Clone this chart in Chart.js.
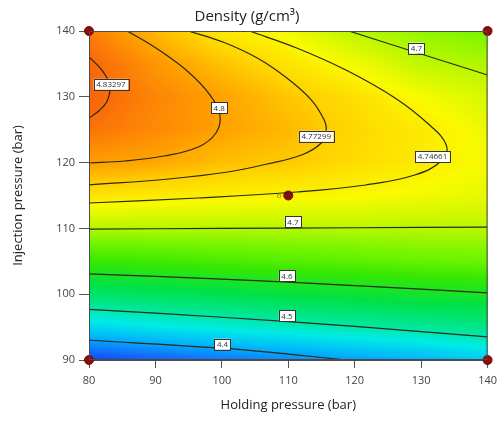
<!DOCTYPE html>
<html>
<head>
<meta charset="utf-8">
<script src="https://cdn.jsdelivr.net/npm/chart.js@4.4.1/dist/chart.umd.min.js"></script>
<style>
html,body{margin:0;padding:0;background:#fff;}
</style>
</head>
<body>
<canvas id="densityChart" width="503" height="434"></canvas>
<script>
// grid: holding pressure (x), injection pressure (y)
const holdingGrid = [80, 90, 100, 110, 120, 130, 140];
const injectionGrid = [90, 95, 100, 105, 110, 115, 120, 125, 130, 135, 140];
const densityGrid = [
    [4.330, 4.350, 4.370, 4.385, 4.400, 4.415, 4.440],
    [4.450, 4.465, 4.478, 4.490, 4.502, 4.513, 4.523],
    [4.545, 4.555, 4.565, 4.575, 4.583, 4.591, 4.597],
    [4.630, 4.636, 4.643, 4.650, 4.656, 4.662, 4.665],
    [4.700, 4.700, 4.700, 4.701, 4.701, 4.702, 4.703],
    [4.757, 4.752, 4.748, 4.744, 4.742, 4.735, 4.728],
    [4.800, 4.795, 4.781, 4.775, 4.762, 4.752, 4.737],
    [4.826, 4.812, 4.798, 4.785, 4.766, 4.752, 4.732],
    [4.838, 4.815, 4.798, 4.777, 4.760, 4.738, 4.718],
    [4.834, 4.805, 4.780, 4.757, 4.735, 4.706, 4.697],
    [4.820, 4.785, 4.752, 4.735, 4.701, 4.685, 4.672]
];

// contour lines
const contourNames = ["4.83297", "4.8", "4.77299", "4.74661", "4.7", "4.7", "4.6", "4.5", "4.4"];
const contourLines = [
    [[80,136.05],[81.93,134.07],[83.11,131.79],[82.81,129.51],[81.63,127.99],[80,126.78]],
    [[85.78,140],[90.52,137.11],[94.96,133.77],[98.22,130.27],[99.7,127.23],[99.11,124.5],[96.44,122.37],[91.26,121.0],[85.33,120.24],[80,119.94]],
    [[94.96,140],[100.15,138.33],[105.33,135.9],[109.78,132.86],[113.48,129.51],[115.41,126.47],[115.7,124.95],[114.96,122.98],[112.0,121.16],[106.81,119.79],[100.89,118.57],[92.0,117.51],[80,116.6]],
    [[104.15,140],[111.26,137.42],[118.67,134.07],[126.07,129.82],[131.26,125.71],[133.78,122.67],[133.19,120.39],[129.04,118.11],[121.63,116.6],[111.26,115.53],[96.44,114.62],[80,113.86]],
    [[119.11,140],[129.04,136.81],[140,133.31]],
    [[80,109.9],[100,110.0],[120,110.1],[140,110.2]],
    [[80,103.1],[100,102.3],[120,101.3],[140,100.2]],
    [[80,97.7],[100,96.5],[120,95.1],[140,93.5]],
    [[80,93.0],[100,91.8],[110,90.9],[118.7,90]]
];
const contourLabelAt = [[83.3,131.9],[99.6,128.3],[114.2,124.0],[131.7,120.9],[129.3,137.4],[110.7,111.0],[109.8,102.8],[109.8,96.7],[100.1,92.4]];

// design points
const designX = [80, 140, 80, 140, 110];
const designY = [140, 140, 90, 90, 115];
const designRuns = ["", "", "", "", "6"];

const colorStops = [
    [4.30, [0, 40, 230]],
    [4.36, [20, 105, 255]],
    [4.42, [0, 185, 250]],
    [4.47, [0, 235, 230]],
    [4.52, [0, 230, 140]],
    [4.57, [0, 225, 70]],
    [4.63, [55, 232, 0]],
    [4.67, [115, 245, 0]],
    [4.71, [200, 248, 0]],
    [4.74, [250, 250, 0]],
    [4.77, [255, 210, 0]],
    [4.80, [255, 158, 0]],
    [4.83, [250, 108, 10]],
    [4.86, [240, 80, 10]]
];

function colorFor(v) {
    if (v <= colorStops[0][0]) return colorStops[0][1];
    for (let i = 1; i < colorStops.length; i++) {
        if (v <= colorStops[i][0]) {
            const a = colorStops[i-1], b = colorStops[i];
            const t = (v - a[0]) / (b[0] - a[0]);
            return [0,1,2].map(k => a[1][k] + (b[1][k] - a[1][k]) * t);
        }
    }
    return colorStops[colorStops.length-1][1];
}

function findCell(arr, v) {
    let i = 0;
    while (i < arr.length - 2 && v > arr[i+1]) i++;
    let t = (v - arr[i]) / (arr[i+1] - arr[i]);
    return [i, Math.max(0, Math.min(1, t))];
}

function densityAt(xv, yv) {
    const [i, tx] = findCell(holdingGrid, xv);
    const [j, ty] = findCell(injectionGrid, yv);
    const g = densityGrid;
    const a = g[j][i] * (1-tx) + g[j][i+1] * tx;
    const b = g[j+1][i] * (1-tx) + g[j+1][i+1] * tx;
    return a * (1-ty) + b * ty;
}

const surfacePlugin = {
    id: 'surface',
    beforeDatasetsDraw(chart) {
        const {ctx, chartArea: a, scales: {x, y}} = chart;
        const w = Math.round(a.right - a.left), h = Math.round(a.bottom - a.top);
        const off = document.createElement('canvas');
        off.width = w; off.height = h;
        const octx = off.getContext('2d');
        const img = octx.createImageData(w, h);
        for (let j = 0; j < h; j++) {
            const yv = y.getValueForPixel(a.top + j + 0.5);
            for (let i = 0; i < w; i++) {
                const xv = x.getValueForPixel(a.left + i + 0.5);
                const c = colorFor(densityAt(xv, yv));
                const k = (j * w + i) * 4;
                img.data[k] = c[0]; img.data[k+1] = c[1]; img.data[k+2] = c[2]; img.data[k+3] = 255;
            }
        }
        octx.putImageData(img, 0, 0);
        ctx.drawImage(off, a.left, a.top);
    },
    afterDatasetsDraw(chart) {
        const {ctx, chartArea: a, scales: {x, y}} = chart;
        ctx.save();
        ctx.strokeStyle = '#4a4a4a';
        ctx.lineWidth = 1;
        ctx.strokeRect(a.left + 0.5, a.top + 0.5, a.right - a.left - 1, a.bottom - a.top - 1);
        // contour labels
        ctx.font = '8px "Open Sans", sans-serif';
        ctx.textAlign = 'center';
        ctx.textBaseline = 'middle';
        contourNames.forEach((name, i) => {
            const px = x.getPixelForValue(contourLabelAt[i][0]);
            const py = y.getPixelForValue(contourLabelAt[i][1]);
            const tw = ctx.measureText(name).width + 5;
            ctx.fillStyle = '#fff';
            ctx.fillRect(px - tw/2, py - 5.5, tw, 11);
            ctx.strokeStyle = '#333';
            ctx.strokeRect(Math.round(px - tw/2) + 0.5, Math.round(py - 5.5) + 0.5, Math.round(tw), 11);
            ctx.fillStyle = '#333';
            ctx.fillText(name, px, py + 0.5);
        });
        // replicate count next to design point
        ctx.fillStyle = '#8a7a20';
        ctx.textAlign = 'right';
        designRuns.forEach((r, i) => {
            if (!r) return;
            ctx.fillText(r, x.getPixelForValue(designX[i]) - 7, y.getPixelForValue(designY[i]));
        });
        ctx.restore();
    }
};

const datasets = contourLines.map((pts, i) => ({
    label: contourNames[i],
    data: pts.map(p => ({x: p[0], y: p[1]})),
    showLine: true,
    borderColor: '#2a2a12',
    borderWidth: 1.2,
    pointRadius: 0,
    tension: 0.4,
    fill: false
}));
datasets.push({
    label: 'Design points',
    data: designX.map((v, i) => ({x: v, y: designY[i]})),
    pointRadius: 4.5,
    pointBackgroundColor: '#8e0b0b',
    pointBorderColor: '#7a0808',
    pointBorderWidth: 1,
    clip: false
});

const tickFont = {family: '"Open Sans", sans-serif', size: 11};
const titleFont = {family: '"Open Sans", sans-serif', size: 13};

new Chart(document.getElementById('densityChart'), {
    type: 'scatter',
    data: {datasets: datasets},
    options: {
        responsive: false,
        animation: false,
        layout: {padding: {right: 9}},
        plugins: {
            legend: {display: false},
            tooltip: {enabled: false},
            title: {
                display: true,
                text: 'Density (g/cm³)',
                color: '#222',
                font: {family: '"Open Sans", sans-serif', size: 15, weight: 'normal'},
                padding: {top: 8, bottom: 5}
            }
        },
        scales: {
            x: {
                type: 'linear',
                min: 80, max: 140,
                afterFit: s => { s.height = 74; },
                ticks: {stepSize: 10, color: '#444', font: tickFont, padding: 6},
                grid: {drawOnChartArea: false, tickLength: 8, color: '#555'},
                border: {display: true, color: '#4a4a4a'},
                title: {display: true, text: 'Holding pressure (bar)', color: '#222', font: titleFont, padding: {bottom: 21}}
            },
            y: {
                type: 'linear',
                min: 90, max: 140,
                afterFit: s => { s.width = 89; },
                ticks: {stepSize: 10, color: '#444', font: tickFont, padding: 4},
                grid: {drawOnChartArea: false, tickLength: 10, color: '#555'},
                border: {display: true, color: '#4a4a4a'},
                title: {display: true, text: 'Injection pressure (bar)', color: '#222', font: titleFont, padding: {top: 10}}
            }
        }
    },
    plugins: [surfacePlugin]
});
</script>
</body>
</html>
